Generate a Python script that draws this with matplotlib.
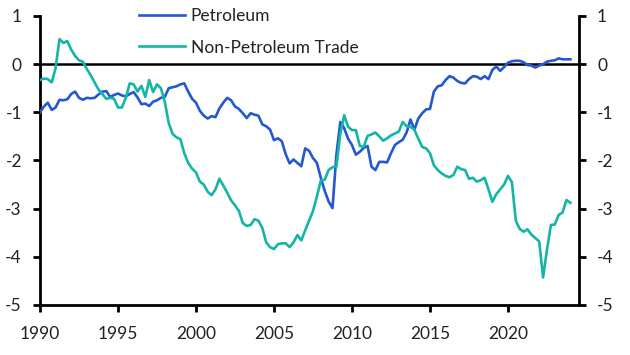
import numpy as np
import matplotlib
matplotlib.use('Agg')
import matplotlib.pyplot as plt

# quarterly, 1990Q1 .. 2024Q1
start_year = 1990
petroleum = [
    -1.0, -0.88, -0.8, -0.95, -0.9, -0.74, -0.75, -0.73, -0.62, -0.57,
    -0.7, -0.74, -0.7, -0.71, -0.7, -0.63, -0.57, -0.56, -0.68, -0.64,
    -0.61, -0.65, -0.67, -0.62, -0.58, -0.69, -0.83, -0.82, -0.87, -0.78,
    -0.75, -0.7, -0.68, -0.5, -0.48, -0.46, -0.42, -0.4, -0.57, -0.72,
    -0.8, -0.97, -1.07, -1.13, -1.08, -1.1, -0.92, -0.8, -0.7, -0.75,
    -0.88, -0.93, -1.02, -1.12, -1.02, -1.05, -1.07, -1.25, -1.29, -1.36,
    -1.58, -1.54, -1.6, -1.87, -2.06, -1.98, -2.05, -2.12, -1.75, -1.8,
    -1.95, -2.05, -2.36, -2.63, -2.85, -2.99, -1.88, -1.2, -1.33, -1.55,
    -1.68, -1.88, -1.82, -1.74, -1.7, -2.13, -2.2, -2.03, -2.03, -2.04,
    -1.85, -1.68, -1.62, -1.57, -1.42, -1.15, -1.36, -1.13, -1.02, -0.94,
    -0.93, -0.57, -0.46, -0.44, -0.33, -0.25, -0.28, -0.35, -0.39, -0.4,
    -0.31, -0.25, -0.26, -0.31, -0.25, -0.31, -0.12, -0.05, -0.14, -0.06,
    0.03, 0.06, 0.07, 0.07, 0.04, -0.02, -0.03, -0.07, -0.03, 0.0,
    0.05, 0.07, 0.08, 0.12, 0.1, 0.1, 0.1,
]
non_petroleum = [
    -0.33, -0.3, -0.31, -0.38, -0.08, 0.52, 0.44, 0.48, 0.3, 0.17,
    0.08, 0.05, -0.1, -0.23, -0.38, -0.53, -0.62, -0.72, -0.7, -0.72,
    -0.9, -0.9, -0.7, -0.4, -0.42, -0.57, -0.45, -0.68, -0.33, -0.58,
    -0.42, -0.5, -0.78, -1.22, -1.45, -1.52, -1.56, -1.85, -2.05, -2.17,
    -2.25, -2.44, -2.5, -2.65, -2.72, -2.6, -2.38, -2.52, -2.67, -2.83,
    -2.93, -3.05, -3.3, -3.36, -3.34, -3.22, -3.25, -3.4, -3.7, -3.8,
    -3.84, -3.74, -3.72, -3.72, -3.8, -3.7, -3.55, -3.66, -3.45, -3.25,
    -3.05, -2.75, -2.42, -2.4, -2.2, -2.14, -2.13, -1.45, -1.06, -1.3,
    -1.37, -1.37, -1.7, -1.72, -1.49, -1.46, -1.42, -1.5, -1.59, -1.54,
    -1.48, -1.44, -1.4, -1.2, -1.29, -1.3, -1.36, -1.55, -1.72, -1.75,
    -1.85, -2.1, -2.2, -2.27, -2.32, -2.35, -2.3, -2.13, -2.18, -2.2,
    -2.38, -2.36, -2.44, -2.41, -2.36, -2.6, -2.86, -2.7, -2.6, -2.5,
    -2.32, -2.45, -3.25, -3.42, -3.48, -3.43, -3.54, -3.61, -3.68, -4.43,
    -3.85, -3.34, -3.33, -3.13, -3.08, -2.82, -2.88,
]
series_names = ['Petroleum', 'Non-Petroleum Trade']
x_ticks = [1990, 1995, 2000, 2005, 2010, 2015, 2020]
y_ticks = [-5, -4, -3, -2, -1, 0, 1]

dates = start_year + np.arange(len(petroleum)) / 4

plt.rcParams['font.family'] = ['Lato', 'DejaVu Sans']

fig = plt.figure(figsize=(6.3, 3.55), dpi=100)
ax = fig.add_axes([0.0635, 0.141, 0.8555, 0.814])

ax.plot(dates, petroleum, color='#2458d0', lw=1.9, label=series_names[0], zorder=3)
ax.plot(dates, non_petroleum, color='#14b5a5', lw=1.9, label=series_names[1], zorder=3)
ax.axhline(0, color='black', lw=1.8, zorder=2)

ax.set_xlim(1990, 2024.55)
ax.set_ylim(-5, 1)
ax.set_xticks(x_ticks)
ax.set_yticks(y_ticks)
ax.set_yticklabels([str(v) for v in y_ticks])

for side in ['left', 'right', 'bottom']:
    ax.spines[side].set_linewidth(2)
ax.spines['top'].set_visible(False)

ax.tick_params(axis='both', direction='out', length=5, width=2, labelsize=12.5,
               colors='black', labelcolor='#222222')
ax.tick_params(axis='y', right=True, labelright=True, pad=8)
ax.tick_params(axis='x', pad=10)

leg = ax.legend(loc='upper left', bbox_to_anchor=(0.17, 1.052), frameon=False,
                fontsize=12.5, handlelength=2.7, handletextpad=0.3,
                labelspacing=0.9, borderaxespad=0)
for t in leg.get_texts():
    t.set_color('#222222')

fig.savefig('out.png', dpi=100)
